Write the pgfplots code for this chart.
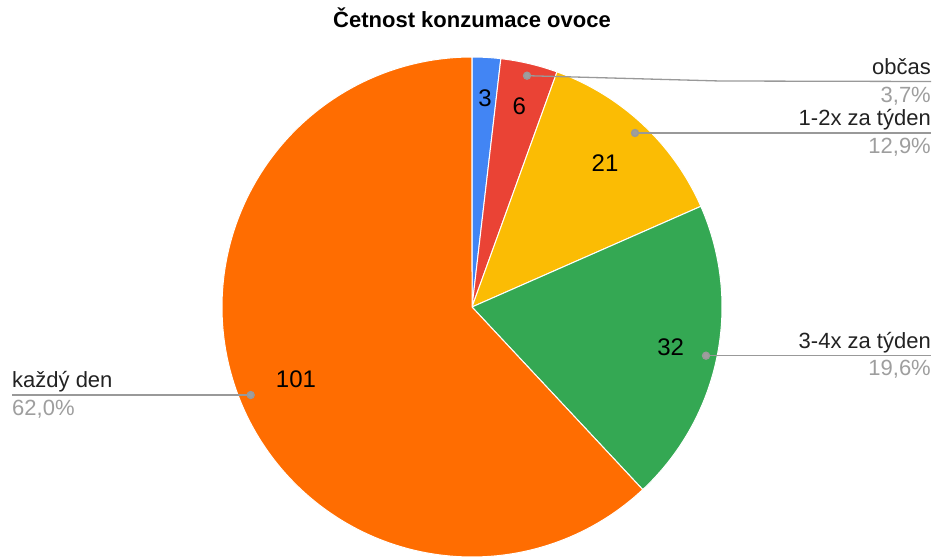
\documentclass[border=0pt]{standalone}
\usepackage{pgfplots}
\pgfplotsset{compat=1.18}
\usepackage{fontspec}
\setmainfont{Liberation Sans}
\definecolor{cblue}{HTML}{4285F4}
\definecolor{cred}{HTML}{EA4335}
\definecolor{cyellow}{HTML}{FBBC04}
\definecolor{cgreen}{HTML}{34A853}
\definecolor{corange}{HTML}{FF6D01}
\definecolor{tdark}{HTML}{222222}
\definecolor{tgray}{HTML}{9E9E9E}
\definecolor{lgray}{HTML}{999999}
\begin{document}
\begin{tikzpicture}
% values: 3, obcas 6, 1-2x 21, 3-4x 32, kazdy den 101
\def\vA{3}\def\vB{6}\def\vC{21}\def\vD{32}\def\vE{101}
\pgfmathsetmacro{\tot}{\vA+\vB+\vC+\vD+\vE}
\pgfmathsetmacro{\aA}{90}
\pgfmathsetmacro{\aB}{\aA-360*(\vA/\tot)}
\pgfmathsetmacro{\aC}{\aB-360*(\vB/\tot)}
\pgfmathsetmacro{\aD}{\aC-360*(\vC/\tot)}
\pgfmathsetmacro{\aE}{\aD-360*(\vD/\tot)}
\pgfmathsetmacro{\aF}{\aE-360*(\vE/\tot)}
\begin{axis}[scale only axis, width=934pt, height=557pt,
  xmin=0, xmax=934, ymin=0, ymax=557, hide axis, clip=false]
\addplot[fill=cblue, draw=white, line width=1pt, domain=\aB:\aA, samples=20, variable=\t]
  ({472+250*cos(\t)},{250+250*sin(\t)}) -- (axis cs:472,250) -- cycle;
\addplot[fill=cred, draw=white, line width=1pt, domain=\aC:\aB, samples=30, variable=\t]
  ({472+250*cos(\t)},{250+250*sin(\t)}) -- (axis cs:472,250) -- cycle;
\addplot[fill=cyellow, draw=white, line width=1pt, domain=\aD:\aC, samples=60, variable=\t]
  ({472+250*cos(\t)},{250+250*sin(\t)}) -- (axis cs:472,250) -- cycle;
\addplot[fill=cgreen, draw=white, line width=1pt, domain=\aE:\aD, samples=80, variable=\t]
  ({472+250*cos(\t)},{250+250*sin(\t)}) -- (axis cs:472,250) -- cycle;
\addplot[fill=corange, draw=white, line width=1pt, domain=\aF:\aE, samples=200, variable=\t]
  ({472+250*cos(\t)},{250+250*sin(\t)}) -- (axis cs:472,250) -- cycle;
% leader lines
\addplot[lgray, line width=1.3pt, mark=*, mark size=3.5pt, mark options={fill=tgray, draw=none}, mark indices={1}]
  coordinates {(527,481.3) (720,476) (931,475.5)};
\addplot[lgray, line width=1.3pt, mark=*, mark size=3.5pt, mark options={fill=tgray, draw=none}, mark indices={1}]
  coordinates {(635,424) (931,424)};
\addplot[lgray, line width=1.3pt, mark=*, mark size=3.5pt, mark options={fill=tgray, draw=none}, mark indices={1}]
  coordinates {(706,201.3) (931,201.3)};
\addplot[lgray, line width=1.3pt, mark=*, mark size=3.5pt, mark options={fill=tgray, draw=none}, mark indices={1}]
  coordinates {(250.7,162) (12,162)};
% title
\node[anchor=base, inner sep=0pt, font=\fontsize{22}{26}\selectfont\bfseries, text=black] at (axis cs:472,529) {Četnost konzumace ovoce};
% outside labels
\begin{scope}[every node/.style={inner sep=0pt, font=\fontsize{22}{26}\selectfont}]
\node[anchor=base east, text=tdark] at (axis cs:931,482) {občas};
\node[anchor=base east, text=tgray] at (axis cs:931,454.3) {3,7\%};
\node[anchor=base east, text=tdark] at (axis cs:931,431) {1-2x za týden};
\node[anchor=base east, text=tgray] at (axis cs:931,403) {12,9\%};
\node[anchor=base east, text=tdark] at (axis cs:931,208) {3-4x za týden};
\node[anchor=base east, text=tgray] at (axis cs:931,181) {19,6\%};
\node[anchor=base west, text=tdark] at (axis cs:12,169) {každý den};
\node[anchor=base west, text=tgray] at (axis cs:12,141) {62,0\%};
\end{scope}
% inside values
\begin{scope}[every node/.style={inner sep=0pt, anchor=base, font=\fontsize{24}{28}\selectfont, text=black}]
\node at (axis cs:485,450.3) {3};
\node at (axis cs:519.3,442) {6};
\node at (axis cs:605,385) {21};
\node at (axis cs:670.7,201) {32};
\node at (axis cs:296,169) {101};
\end{scope}
\end{axis}
\pgfresetboundingbox
\useasboundingbox (current axis.south west) rectangle (current axis.north east);
\end{tikzpicture}
\end{document}
